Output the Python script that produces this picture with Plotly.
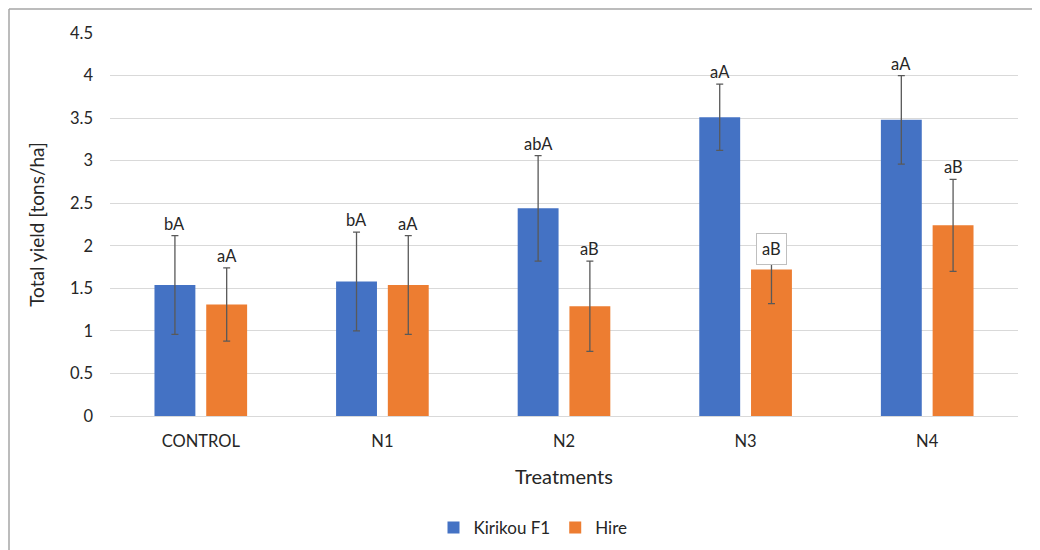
import plotly.graph_objects as go

categories = ["CONTROL", "N1", "N2", "N3", "N4"]
kirikou = [1.54, 1.58, 2.44, 3.51, 3.48]
kirikou_err = [0.58, 0.58, 0.62, 0.39, 0.52]
hire = [1.31, 1.54, 1.29, 1.72, 2.24]
hire_err = [0.43, 0.58, 0.53, 0.40, 0.54]
kirikou_labels = ["bA", "bA", "abA", "aA", "aA"]
hire_labels = ["aA", "aA", "aB", "aB", "aB"]
y_ticks = [0, 0.5, 1, 1.5, 2, 2.5, 3, 3.5, 4, 4.5]
y_tick_text = ["0", "0.5", "1", "1.5", "2", "2.5", "3", "3.5", "4", "4.5"]

# page body has an 8px margin, so the figure is laid out 8px smaller
W, H = 1032, 542
ML, MR, MT, MB = 102, 22, 25, 134
PW = W - ML - MR
PH = H - MT - MB
BARGAP = 0.43
FONT = "Lato, Carlito, Calibri, sans-serif"
TXT = "#262626"

err_style = dict(type="data", thickness=1.3, width=3.5, color="#595959")

fig = go.Figure()
fig.add_trace(go.Bar(name="Kirikou F1", x=categories, y=kirikou,
                     marker=dict(color="#4472C4", line=dict(width=0)),
                     error_y=dict(array=kirikou_err, **err_style)))
fig.add_trace(go.Bar(name="Hire", x=categories, y=hire,
                     marker=dict(color="#ED7D31", line=dict(width=0)),
                     error_y=dict(array=hire_err, **err_style)))

cat_px = PW / len(categories)
offset = cat_px * (1 - BARGAP) / 4

annotations = []
for i, c in enumerate(categories):
    annotations.append(dict(x=c, y=kirikou[i] + kirikou_err[i], text=kirikou_labels[i],
                            xshift=-offset, yanchor="bottom", showarrow=False,
                            font=dict(size=16.5, color=TXT, family=FONT)))
    if i == 3:
        annotations.append(dict(x=c, y=hire[i] + hire_err[i], text=hire_labels[i],
                                xshift=offset, yanchor="middle", yshift=-13, showarrow=False,
                                bgcolor="white", bordercolor="#bfbfbf", borderwidth=1, borderpad=5,
                                font=dict(size=16.5, color=TXT, family=FONT)))
    else:
        annotations.append(dict(x=c, y=hire[i] + hire_err[i], text=hire_labels[i],
                                xshift=offset, yanchor="bottom", showarrow=False,
                                font=dict(size=16.5, color=TXT, family=FONT)))

# outer chart border (left and top)
bx = (1 - ML) / PW
by = 1 + (MT - 1) / PH
shapes = [
    dict(type="line", xref="paper", yref="paper", x0=bx, x1=bx, y0=by, y1=-MB / PH - 0.02,
         line=dict(color="#a6a6a6", width=1.5)),
    dict(type="line", xref="paper", yref="paper", x0=bx, x1=(W - ML) / PW + 0.02, y0=by, y1=by,
         line=dict(color="#a6a6a6", width=1.5)),
]

fig.update_layout(
    width=W, height=H,
    margin=dict(l=ML, r=MR, t=MT, b=MB, autoexpand=False),
    paper_bgcolor="white", plot_bgcolor="white",
    barmode="group", bargap=BARGAP, bargroupgap=0.21,
    font=dict(family=FONT, color=TXT, size=16.5),
    annotations=annotations,
    shapes=shapes,
    legend=dict(orientation="h", x=(525 - ML) / PW, xanchor="center",
                y=-(520 - (MT + PH)) / PH, yanchor="middle",
                font=dict(size=17, color=TXT, family=FONT), itemwidth=30,
                traceorder="normal"),
    showlegend=True,
)
fig.update_xaxes(showline=False, showgrid=False, ticks="", ticklabelstandoff=13, automargin=False,
                 tickfont=dict(size=16.5, color=TXT),
                 title=dict(text="Treatments", font=dict(size=20, color=TXT), standoff=20))
fig.update_yaxes(range=[0, 4.5], tickvals=y_ticks, ticktext=y_tick_text, automargin=False,
                 showgrid=True, gridcolor="#d9d9d9", gridwidth=1.3,
                 zeroline=True, zerolinecolor="#d9d9d9", zerolinewidth=1.3,
                 showline=False, ticks="", ticklabelstandoff=16,
                 tickfont=dict(size=16.5, color=TXT),
                 title=dict(text="Total yield [tons/ha]", font=dict(size=19, color=TXT), standoff=20))

fig.write_html("out.html")
